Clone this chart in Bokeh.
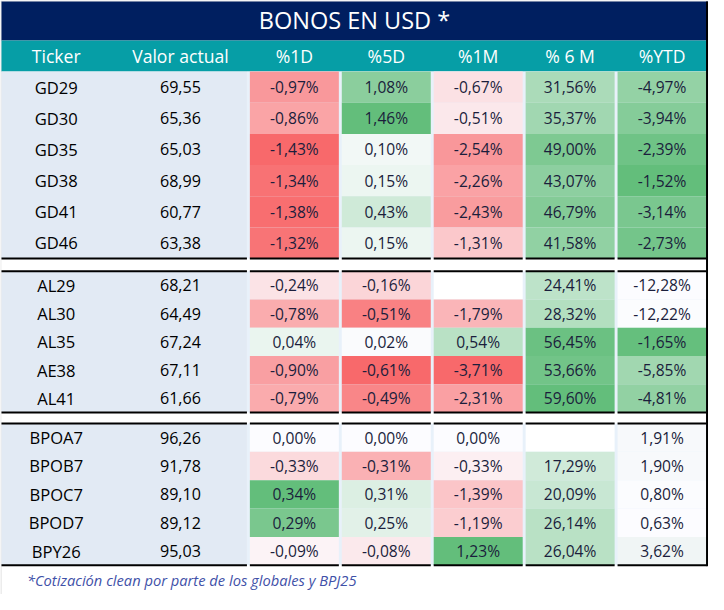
from bokeh.plotting import figure
from bokeh.models import Range1d, ColumnDataSource
from bokeh.core.properties import value
from bokeh.embed import file_html
from bokeh.resources import INLINE

# ---------------- data ----------------
title = "BONOS EN USD *"
headers = ["Ticker", "Valor actual", "%1D", "%5D", "%1M", "% 6 M", "%YTD"]
footnote = "*Cotización clean por parte de los globales y BPJ25"

tickers = ["GD29", "GD30", "GD35", "GD38", "GD41", "GD46",
           "AL29", "AL30", "AL35", "AE38", "AL41",
           "BPOA7", "BPOB7", "BPOC7", "BPOD7", "BPY26"]
block_sizes = [6, 5, 5]
valor = [69.55, 65.36, 65.03, 68.99, 60.77, 63.38,
         68.21, 64.49, 67.24, 67.11, 61.66,
         96.26, 91.78, 89.10, 89.12, 95.03]
pct_1d = [-0.97, -0.86, -1.43, -1.34, -1.38, -1.32,
          -0.24, -0.78, 0.04, -0.90, -0.79,
          0.00, -0.33, 0.34, 0.29, -0.09]
pct_5d = [1.08, 1.46, 0.10, 0.15, 0.43, 0.15,
          -0.16, -0.51, 0.02, -0.61, -0.49,
          0.00, -0.31, 0.31, 0.25, -0.08]
pct_1m = [-0.67, -0.51, -2.54, -2.26, -2.43, -1.31,
          None, -1.79, 0.54, -3.71, -2.31,
          0.00, -0.33, -1.39, -1.19, 1.23]
pct_6m = [31.56, 35.37, 49.00, 43.07, 46.79, 41.58,
          24.41, 28.32, 56.45, 53.66, 59.60,
          None, 17.29, 20.09, 26.14, 26.04]
pct_ytd = [-4.97, -3.94, -2.39, -1.52, -3.14, -2.73,
           -12.28, -12.22, -1.65, -5.85, -4.81,
           1.91, 1.90, 0.80, 0.63, 3.62]

# ---------------- styling ----------------
NAVY = "#001f60"
TEAL = "#069ea6"
COL0_BG = "#e2eaf4"
STRIPE = "#e8f1fa"
NUM_COLOR = "#1b1e3c"
FONT = "Open Sans"
RED = (248, 105, 107)
GREEN = (99, 190, 123)
WHITE = (252, 252, 255)
PALE = (240, 245, 245)

REF_W, REF_H = 724, 610
W, H = 708, 594
fs = W / REF_W


def px(s):
    return value(f"{s * fs:.1f}px")


def lerp(c1, c2, t):
    t = max(0.0, min(1.0, t))
    return "#%02x%02x%02x" % tuple(int(round(a + (b - a) * t)) for a, b in zip(c1, c2))


def diverging(vals):
    vv = [v for v in vals if v is not None]
    vmin, vmax = min(vv), max(vv)
    out = []
    for v in vals:
        if v is None:
            out.append("#ffffff")
        elif v < 0:
            out.append(lerp(WHITE, RED, v / vmin if vmin < 0 else 0))
        else:
            out.append(lerp(WHITE, GREEN, v / vmax if vmax > 0 else 0))
    return out


def two_color(vals, c_lo, c_hi):
    lo, hi = min(vals), max(vals)
    return [lerp(c_lo, c_hi, (v - lo) / (hi - lo)) for v in vals]


n12 = block_sizes[0] + block_sizes[1]
ytd_colors = two_color(pct_ytd[:n12], WHITE, GREEN) + two_color(pct_ytd[n12:], WHITE, PALE)
col_values = [pct_1d, pct_5d, pct_1m, pct_6m, pct_ytd]
col_colors = [diverging(pct_1d), diverging(pct_5d), diverging(pct_1m), diverging(pct_6m), ytd_colors]

# ---------------- geometry (reference pixels) ----------------
TITLE_TOP, TITLE_BOT = 1, 41
HEAD_BOT = 73
block_tops = [73, 278, 434.3]
row_hs = [32, 29, 29.15]
COL0_L, COL0_R = 1, 252
DATA_L0, DATA_STEP, DATA_W = 255, 94, 91
TICK_X, VAL_X = 57, 184
BODY_BOT = block_tops[-1] + block_sizes[-1] * row_hs[-1]

p = figure(width=W, height=H, x_range=Range1d(0, REF_W), y_range=Range1d(REF_H, 0),
           output_backend="svg", toolbar_location=None, min_border=0,
           x_axis_location=None, y_axis_location=None)
p.grid.visible = False
p.outline_line_color = None
p.background_fill_color = "white"
p.border_fill_color = "white"

# outer light border
p.segment(x0=[0.5, 0], y0=[0, 0.5], x1=[0.5, REF_W], y1=[REF_H, 0.5], line_color="#d9d9d9", line_width=1)

# title bar and header bar
p.quad(left=[1], right=[REF_W], top=[TITLE_TOP], bottom=[TITLE_BOT], fill_color=NAVY, line_color=None)
p.quad(left=[1], right=[REF_W], top=[TITLE_BOT], bottom=[HEAD_BOT], fill_color=TEAL, line_color=None)

# body stripe background
p.quad(left=[COL0_R], right=[REF_W], top=[HEAD_BOT], bottom=[BODY_BOT], fill_color=STRIPE, line_color=None)

# cells
cl, cr, ct, cb, cc = [], [], [], [], []
row_y = []
k = 0
for b, n in enumerate(block_sizes):
    top, h = block_tops[b], row_hs[b]
    cl.append(COL0_L); cr.append(COL0_R); ct.append(top); cb.append(top + n * h); cc.append(COL0_BG)
    for r in range(n):
        y0 = top + r * h
        row_y.append(y0 + h / 2)
        for c in range(len(col_values)):
            left = DATA_L0 + c * DATA_STEP
            cl.append(left); cr.append(left + DATA_W)
            ct.append(y0); cb.append(y0 + h); cc.append(col_colors[c][k])
        k += 1
for b in range(len(block_sizes) - 1):
    bot = block_tops[b] + block_sizes[b] * row_hs[b]
    cl.append(1); cr.append(REF_W - 2); ct.append(bot); cb.append(block_tops[b + 1]); cc.append("#ffffff")
p.quad(source=ColumnDataSource(dict(left=cl, right=cr, top=ct, bottom=cb, color=cc)),
       left="left", right="right", top="top", bottom="bottom", fill_color="color", line_color=None)

# black separator lines
sx0, sx1, sy = [], [], []
line_ys = []
for b, n in enumerate(block_sizes):
    if b > 0:
        line_ys.append(block_tops[b])
    line_ys.append(block_tops[b] + n * row_hs[b])
segs = [(1, COL0_R)] + [(DATA_L0 + c * DATA_STEP, DATA_L0 + c * DATA_STEP + DATA_W) for c in range(5)]
for y in line_ys:
    for a, bnd in segs:
        sx0.append(a); sx1.append(bnd); sy.append(y)
p.segment(x0=sx0, y0=sy, x1=sx1, y1=sy, line_color="black", line_width=2)
p.segment(x0=[722.5], y0=[1], x1=[722.5], y1=[BODY_BOT + 1], line_color="black", line_width=2)

# title text
p.text(x=[REF_W / 2], y=[20], text=[title], text_align="center", text_baseline="middle",
       text_color="white", text_font=value(FONT), text_font_size=px(24))

# header texts
hx = [TICK_X, VAL_X] + [DATA_L0 + c * DATA_STEP + DATA_W / 2 for c in range(5)]
p.text(x=hx, y=[57] * len(hx), text=headers, text_align="center", text_baseline="middle",
       text_color="white", text_font=value(FONT), text_font_size=px(18))

# first columns
fmt = lambda v: f"{v:.2f}".replace(".", ",")
p.text(x=[TICK_X] * len(tickers), y=row_y, text=tickers, text_align="center", text_baseline="middle",
       text_color="black", text_font=value(FONT), text_font_size=px(17))
p.text(x=[VAL_X] * len(valor), y=row_y, text=[fmt(v) for v in valor], text_align="center",
       text_baseline="middle", text_color="black", text_font=value(FONT), text_font_size=px(16.5))

# value texts
tx, ty, tt = [], [], []
for c, vals in enumerate(col_values):
    for i, v in enumerate(vals):
        if v is None:
            continue
        tx.append(DATA_L0 + c * DATA_STEP + DATA_W / 2)
        ty.append(row_y[i])
        tt.append(fmt(v) + "%")
p.text(x=tx, y=ty, text=tt, text_align="center", text_baseline="middle",
       text_color=NUM_COLOR, text_font=value(FONT), text_font_size=px(16))

# footnote
p.text(x=[27], y=[595], text=[footnote], text_align="left", text_baseline="middle",
       text_color="#3f51a8", text_font=value(FONT), text_font_style="italic", text_font_size=px(15))

open("out.html", "w").write(file_html(p, INLINE))
